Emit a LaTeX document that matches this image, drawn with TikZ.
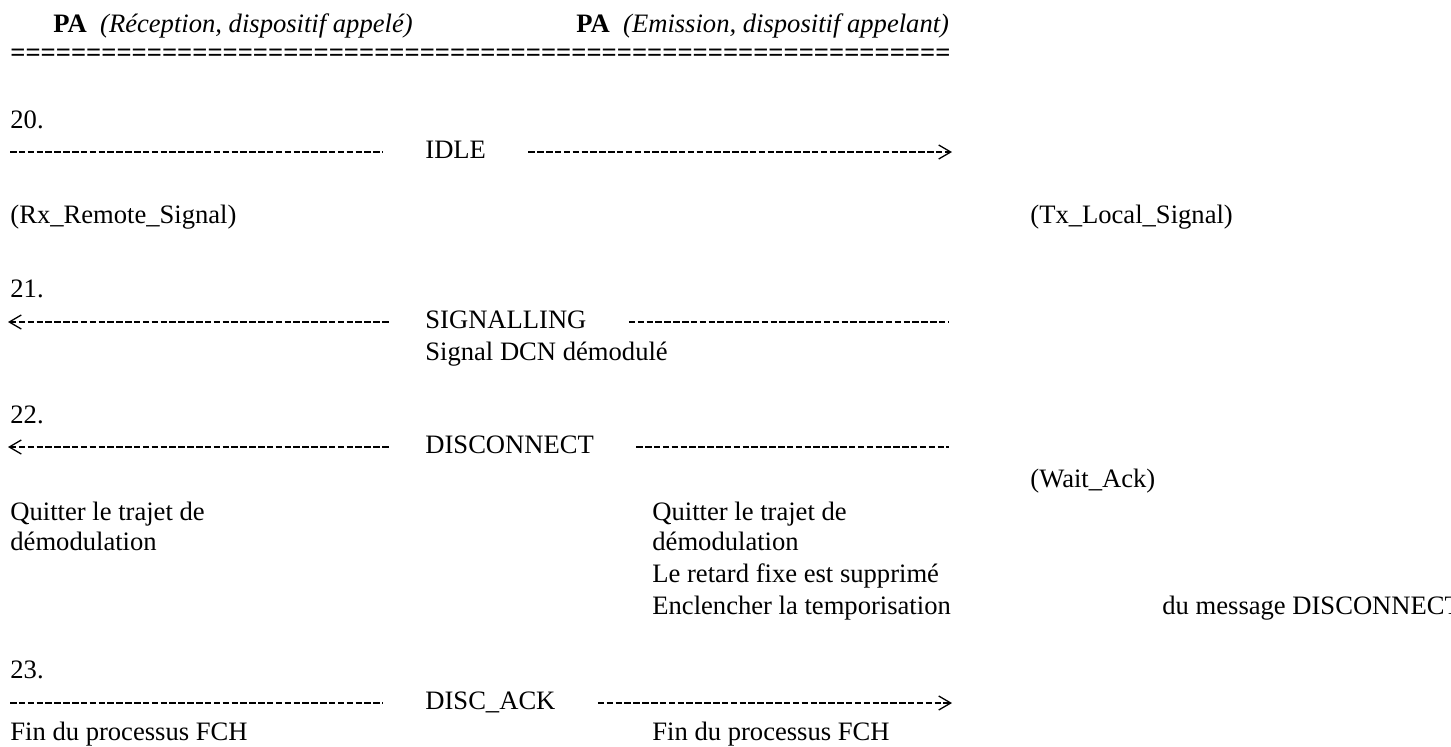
\documentclass[tikz,border=0pt]{standalone}
\usepackage{fontspec}
\setmainfont{Liberation Serif}
\usetikzlibrary{arrows.meta}
\tikzset{
  txt/.style={anchor=base west,inner sep=0pt,font=\fontsize{13.3pt}{15.5pt}\selectfont},
  dashln/.style={line width=0.8pt,dash pattern=on 3.25pt off 1.18pt},
  tipr/.style={-{Straight Barb[length=6pt,width=7pt,line width=0.65pt]}},
  tipl/.style={{Straight Barb[length=6pt,width=7pt,line width=0.65pt]}-}
}
\begin{document}
\begin{tikzpicture}[x=0.5pt,y=-0.5pt]
              \useasboundingbox (0,0) rectangle (1451,746);
              \node[txt](hdrx)at(53,32){\textbf{PA}\hspace{0.5em}\textit{(Réception, dispositif appelé)}};
              \node[txt](hdtx)at(576,32){\textbf{PA}\hspace{0.5em}\textit{(Emission, dispositif appelant)}};
              \node[txt](sep)at(10,61){\textbf{==============================================================}};
              \node[txt](n20)at(10,128){20.};
              \node[txt](idle)at(425,158){IDLE};
              \coordinate(a20)at(10,152);
              \coordinate(b20)at(952,152);
              \draw[dashln,shorten >=21pt](a20)--(idle.west|-a20);
              \draw[dashln,tipr,shorten <=21pt](idle.east|-b20)--(b20);
              \node[txt](rx)at(10,223){(Rx\_Remote\_Signal)};
              \node[txt](tx)at(1030,223){(Tx\_Local\_Signal)};
              \node[txt](n21)at(10,297){21.};
              \node[txt](sig)at(425,328){SIGNALLING};
              \node[txt](dcn)at(425,360){Signal DCN démodulé};
              \coordinate(a21)at(8,322);
              \coordinate(b21)at(949,322);
              \draw[dashln,tipl,shorten >=17.5pt](a21)--(sig.west|-a21);
              \draw[dashln,shorten <=21pt](sig.east|-b21)--(b21);
              \node[txt](n22)at(10,423){22.};
              \node[txt](disc)at(425,453){DISCONNECT};
              \coordinate(a22)at(8,447);
              \coordinate(b22)at(949,447);
              \draw[dashln,tipl,shorten >=17.5pt](a22)--(disc.west|-a22);
              \draw[dashln,shorten <=21pt](disc.east|-b22)--(b22);
              \node[txt](wack)at(1030,487){(Wait\_Ack)};
              \node[txt](qtl)at(10,520){Quitter le trajet de};
              \node[txt](dml)at(10,550){démodulation};
              \node[txt](qtr)at(652,520){Quitter le trajet de};
              \node[txt](dmr)at(652,550){démodulation};
              \node[txt](ret)at(652,582){Le retard fixe est supprimé};
              \node[txt](tmp)at(652,614){Enclencher la temporisation};
              \node[txt](msg)at(1162,614){du message DISCONNECT};
              \node[txt](n23)at(10,678){23.};
              \node[txt](ack)at(425,709){DISC\_ACK};
              \coordinate(a23)at(10,703);
              \coordinate(b23)at(952,703);
              \draw[dashln,shorten >=21pt](a23)--(ack.west|-a23);
              \draw[dashln,tipr,shorten <=21pt](ack.east|-b23)--(b23);
              \node[txt](fcl)at(10,740){Fin du processus FCH};
              \node[txt](fcr)at(652,740){Fin du processus FCH};
\end{tikzpicture}
\end{document}
